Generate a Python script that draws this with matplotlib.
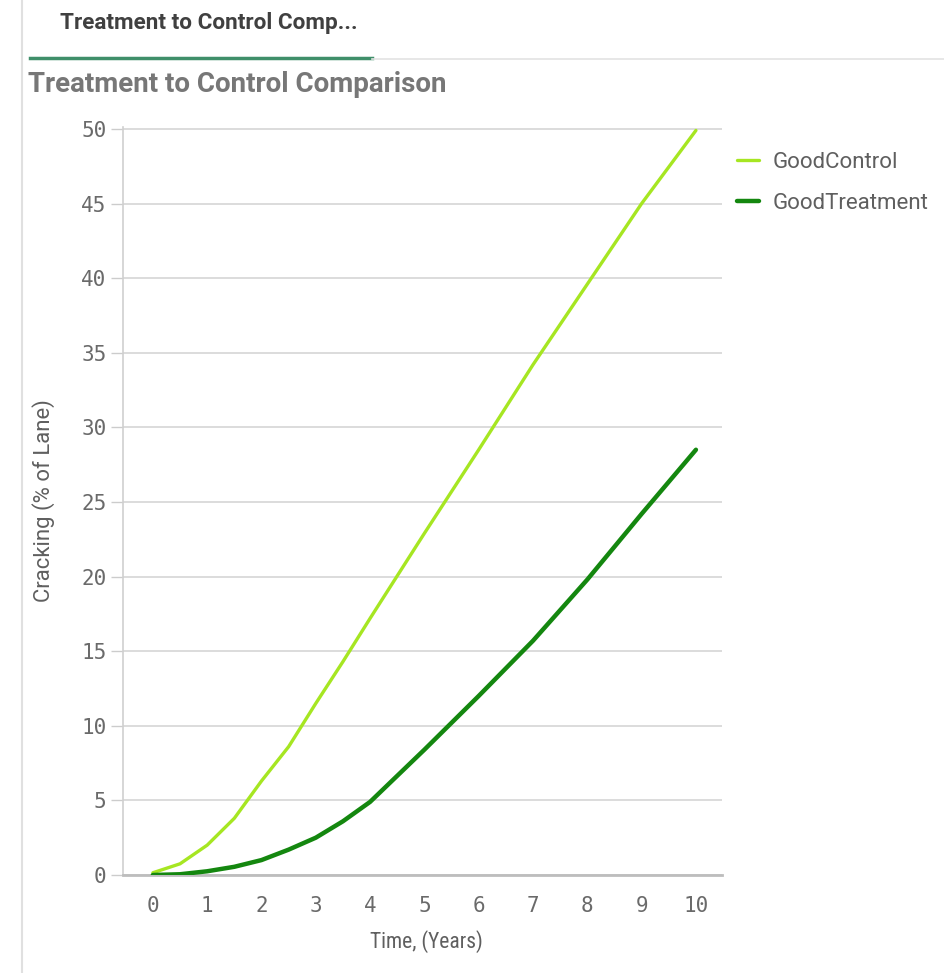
import matplotlib
matplotlib.use("Agg")
import matplotlib.pyplot as plt
from matplotlib import font_manager as fm
from matplotlib.lines import Line2D

# ---- data ----
years = [0, 0.5, 1, 1.5, 2, 2.5, 3, 3.5, 4, 5, 6, 7, 8, 9, 10]
good_control = [0.15, 0.75, 2.0, 3.8, 6.3, 8.6, 11.5, 14.3, 17.2, 22.9, 28.5, 34.2, 39.6, 45.0, 49.9]
good_treatment = [0.0, 0.05, 0.25, 0.55, 1.0, 1.7, 2.5, 3.6, 4.9, 8.4, 12.0, 15.7, 19.8, 24.2, 28.5]
series_names = ["GoodControl", "GoodTreatment"]
x_ticks = list(range(0, 11))
y_ticks = list(range(0, 51, 5))
tab_title = "Treatment to Control Comp..."
chart_title = "Treatment to Control Comparison"
x_label = "Time, (Years)"
y_label = "Cracking (% of Lane)"

# fonts
entries = fm.fontManager.ttflist
names = {f.name for f in entries}
narrow = None
stretch = "normal"
for cand in ["Roboto Condensed", "Liberation Sans Narrow", "Open Sans Condensed",
             "DejaVu Sans Condensed", "Noto Sans Condensed", "Arial Narrow"]:
    if cand in names:
        narrow = cand
        break
if narrow is None:
    for f in entries:
        st = str(f.stretch)
        if st in ("condensed", "semi-condensed", "extra-condensed") or (st.isdigit() and int(st) < 500):
            if f.name in ("Roboto", "Open Sans", "Noto Sans", "Inter", "Lato", "DejaVu Sans"):
                narrow = f.name
                stretch = "condensed"
                break
if narrow is None:
    narrow = "Roboto" if "Roboto" in names else "DejaVu Sans"
fam_narrow = [narrow, "DejaVu Sans"]
fam_reg = ["Roboto", "DejaVu Sans"]
mono = "DejaVu Sans Mono"

c_control = "#a6e622"
c_treat = "#14870f"
grid_c = "#d9d9d9"
txt_c = "#5f5f5f"

fig = plt.figure(figsize=(9.45, 9.73), dpi=100)
fig.patch.set_facecolor("white")

# panel decorations
fig.add_artist(Line2D([22/945, 22/945], [0, 1], color="#e0e0e0", lw=1.5, transform=fig.transFigure))
fig.add_artist(Line2D([30/945, 372/945], [1-58/973, 1-58/973], color="#3f8f6a", lw=2.5, transform=fig.transFigure))
fig.add_artist(Line2D([372/945, 1], [1-59/973, 1-59/973], color="#e3e3e3", lw=1.2, transform=fig.transFigure))

fig.text(60/945, 1-23/973, tab_title, fontsize=16.2, fontweight="bold", color="#404040",
         family=fam_reg, va="center", ha="left")
fig.text(28/945, 1-85/973, chart_title, fontsize=20, fontweight="bold", color="#777777",
         family=fam_reg, va="center", ha="left")

ax = fig.add_axes([123/945, 1-875/973, (722-123)/945, (875-127)/973])
ax.plot(years, good_control, color=c_control, lw=2.4, solid_capstyle="round",
        solid_joinstyle="round", label=series_names[0], zorder=3)
ax.plot(years, good_treatment, color=c_treat, lw=3.2, solid_capstyle="round",
        solid_joinstyle="round", label=series_names[1], zorder=3)

ax.set_xlim(-0.55, 10.48)
ax.set_ylim(0, 50.13)
ax.set_xticks(x_ticks)
ax.set_yticks(y_ticks)
ax.grid(axis="y", color=grid_c, lw=1.3)
ax.set_axisbelow(True)
for s in ["top", "right"]:
    ax.spines[s].set_visible(False)
ax.spines["left"].set_color("#d0d0d0")
ax.spines["left"].set_linewidth(1.2)
ax.spines["bottom"].set_color("#bdbdbd")
ax.spines["bottom"].set_linewidth(2)
ax.tick_params(axis="y", length=9, width=1, color="#cccccc", pad=3, labelsize=15, labelcolor="#6a6a6a")
ax.tick_params(axis="x", length=0, pad=15, labelsize=15, labelcolor="#6a6a6a")
for lab in ax.get_xticklabels() + ax.get_yticklabels():
    lab.set_family(mono)

ax.set_xlabel(x_label, fontsize=15.5, color=txt_c, family=fam_narrow, stretch=stretch)
ax.set_ylabel(y_label, fontsize=15.9, color=txt_c, family=fam_reg)
ax.xaxis.set_label_coords(0.507, -0.074)
ax.yaxis.set_label_coords(-0.113, 0.5)

leg = ax.legend(loc="upper left", bbox_to_anchor=(737/945, 1-152/973), bbox_transform=fig.transFigure,
                frameon=False, prop={"family": fam_reg, "size": 16},
                handlelength=1.0, handletextpad=0.6, labelspacing=0.9,
                borderaxespad=0, borderpad=0)
for t in leg.get_texts():
    t.set_color(txt_c)

fig.savefig("out.png", dpi=100, facecolor="white")
